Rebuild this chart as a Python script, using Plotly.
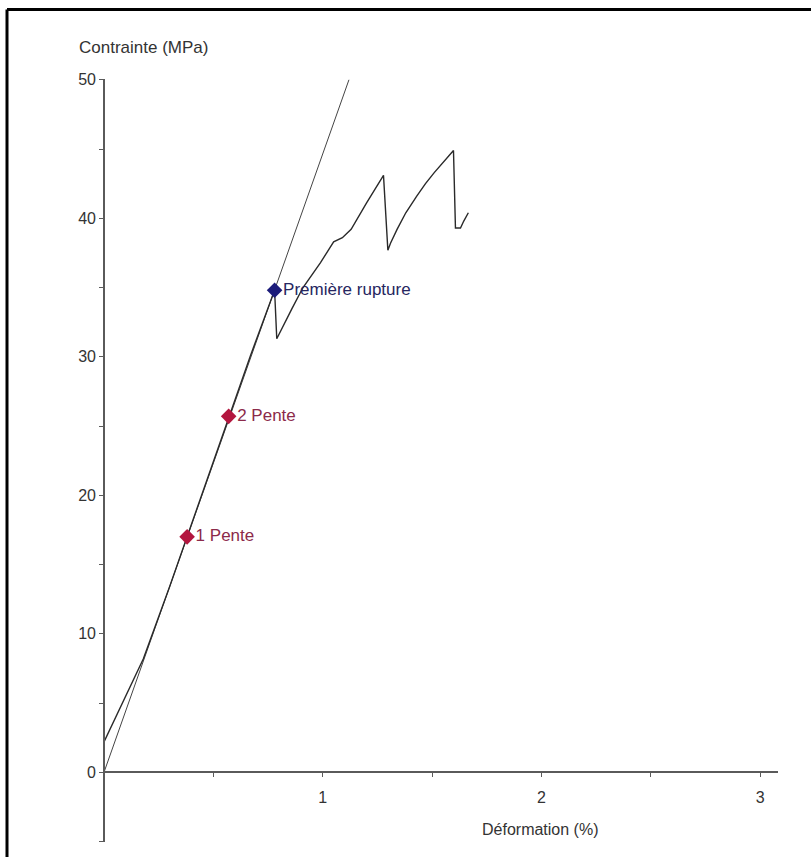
import plotly.graph_objects as go

# Stress-strain test curve (strain in %, stress in MPa)
strain = [0.0, 0.08, 0.18, 0.30, 0.38, 0.47, 0.57, 0.67, 0.78, 0.79,
          0.86, 0.91, 0.99, 1.05, 1.09, 1.13, 1.20, 1.278, 1.298,
          1.31, 1.34, 1.38, 1.43, 1.47, 1.51, 1.555, 1.598, 1.607,
          1.63, 1.645, 1.666]
stress = [2.2, 4.9, 8.2, 13.4, 17.0, 21.1, 25.6, 30.1, 34.8, 31.3,
          33.5, 35.0, 36.8, 38.3, 38.6, 39.2, 41.1, 43.1, 37.7,
          38.2, 39.2, 40.4, 41.6, 42.5, 43.3, 44.1, 44.9, 39.3,
          39.3, 39.8, 40.4]

# Elastic slope line through the origin
slope_x = [0.0, 1.12]
slope_y = [0.0, 50.0]

# Marked points
pt_x = [0.38, 0.57, 0.78]
pt_y = [17.0, 25.7, 34.8]
pt_labels = ["1 Pente", "2 Pente", "Première rupture"]
pt_colors = ["#b3163f", "#b3163f", "#1c1c7a"]
pt_text_colors = ["#8c2a4a", "#8c2a4a", "#262660"]

x_ticks = [0, 0.5, 1, 1.5, 2, 2.5, 3]
x_tick_text = ["", "", "1", "", "2", "", "3"]
y_ticks = [-5, 0, 5, 10, 15, 20, 25, 30, 35, 40, 45, 50]
y_tick_text = ["", "0", "", "10", "", "20", "", "30", "", "40", "", "50"]

W, H = 811, 857


def py(v):
    # vertical pixel (from top) -> value used for paper placement
    return (v - 6.05) / 0.9928


def yp(v):
    return (H - py(v)) / H


x0_px, x_unit = 104.0, 218.7
x_max = 3.08
y0_px, y_unit = 772.0, 13.88
y_min, y_max = -5.0, 50.05

x_dom = [x0_px / W, (x0_px + x_max * x_unit) / W]
y_dom = [yp(y0_px - y_min * y_unit), yp(y0_px - y_max * y_unit)]
y_zero_paper = y_dom[0] + (0 - y_min) / (y_max - y_min) * (y_dom[1] - y_dom[0])

FONT = "Liberation Sans, Arial, sans-serif"

fig = go.Figure()
fig.add_trace(go.Scatter(x=slope_x, y=slope_y, mode="lines",
                         line=dict(color="#444444", width=1), hoverinfo="skip"))
fig.add_trace(go.Scatter(x=strain, y=stress, mode="lines",
                         line=dict(color="#2a2a2a", width=1.4)))
fig.add_trace(go.Scatter(x=pt_x, y=pt_y, mode="markers+text",
                         marker=dict(symbol="diamond", size=12, color=pt_colors),
                         text=pt_labels, textposition="middle right",
                         textfont=dict(family=FONT, size=17, color=pt_text_colors),
                         cliponaxis=False))

axis_font = dict(family=FONT, size=16, color="#333333")

fig.update_layout(
    width=W, height=H,
    margin=dict(l=0, r=0, t=0, b=0),
    paper_bgcolor="white", plot_bgcolor="white",
    showlegend=False,
    xaxis=dict(domain=x_dom, range=[0, x_max], anchor="free", position=y_zero_paper,
               showgrid=False, zeroline=False, showline=True,
               linecolor="#5a5a5a", linewidth=1.6,
               tickmode="array", tickvals=x_ticks, ticktext=x_tick_text,
               ticks="outside", ticklen=4, tickwidth=1.4, tickcolor="#5a5a5a",
               ticklabelstandoff=7, tickfont=axis_font),
    yaxis=dict(domain=y_dom, range=[y_min, y_max], anchor="free", position=x_dom[0],
               showgrid=False, zeroline=False, showline=True,
               linecolor="#5a5a5a", linewidth=1.6,
               tickmode="array", tickvals=y_ticks, ticktext=y_tick_text,
               ticks="outside", ticklen=4, tickwidth=1.4, tickcolor="#5a5a5a",
               tickfont=axis_font),
    annotations=[
        dict(text="Contrainte (MPa)", xref="paper", yref="paper",
             x=77 / W, y=yp(46), xanchor="left", yanchor="middle",
             showarrow=False, font=dict(family=FONT, size=17, color="#333333")),
        dict(text="Déformation (%)", xref="paper", yref="paper",
             x=540 / W, y=yp(829), xanchor="center", yanchor="middle",
             showarrow=False, font=dict(family=FONT, size=16, color="#333333")),
    ],
    shapes=[
        dict(type="line", xref="paper", yref="paper", x0=7 / W, x1=1, y0=yp(7.5),
             y1=yp(7.5), line=dict(color="black", width=3)),
        dict(type="line", xref="paper", yref="paper", x0=7 / W, x1=7 / W, y0=0,
             y1=yp(7.5), line=dict(color="black", width=3)),
    ],
)

fig.write_html("out.html")
